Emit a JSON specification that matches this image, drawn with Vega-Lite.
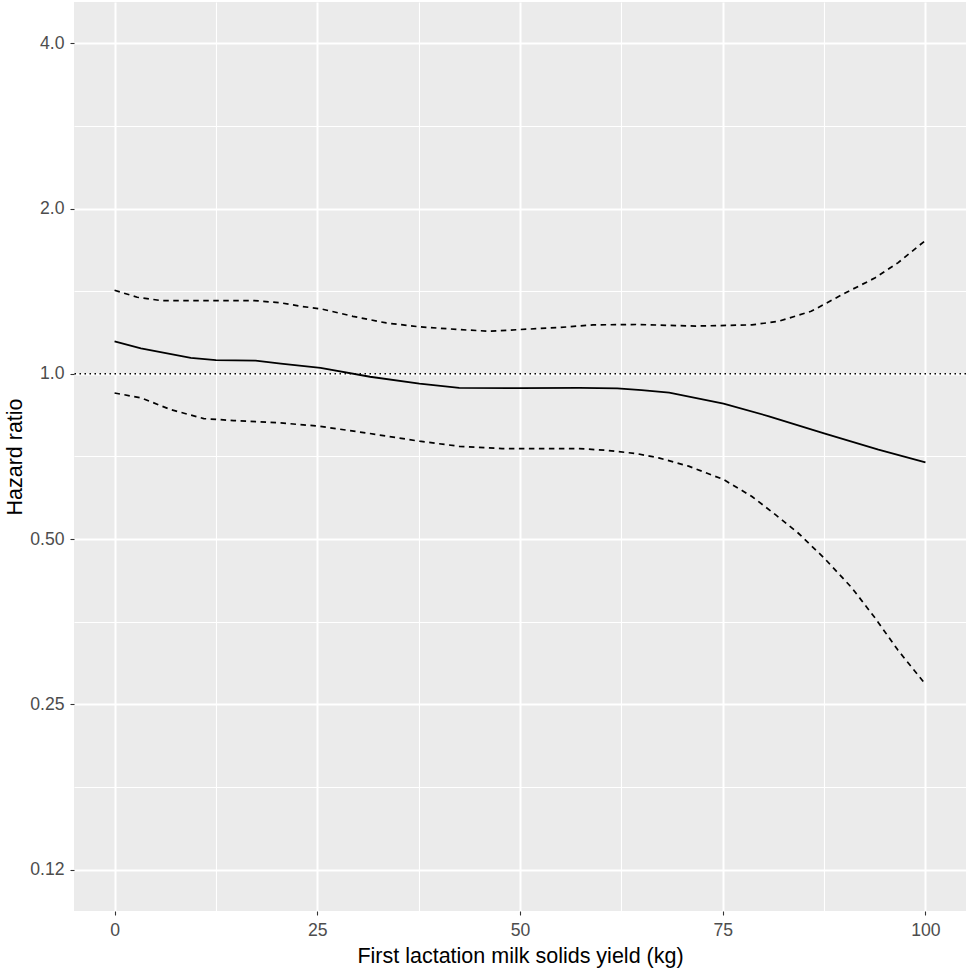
{
  "$schema": "https://vega.github.io/schema/vega-lite/v6.json",
  "width": 892,
  "height": 909,
  "autosize": {"type": "none"},
  "padding": {"left": 74, "top": 2, "right": 2, "bottom": 60},
  "background": "white",
  "datasets": {
    "curves": [
      {"yield": 0, "hr": 1.146, "series": "estimate"},
      {"yield": 3.25, "hr": 1.113, "series": "estimate"},
      {"yield": 9.4, "hr": 1.069, "series": "estimate"},
      {"yield": 12.5, "hr": 1.059, "series": "estimate"},
      {"yield": 17.4, "hr": 1.057, "series": "estimate"},
      {"yield": 20.5, "hr": 1.044, "series": "estimate"},
      {"yield": 25.4, "hr": 1.025, "series": "estimate"},
      {"yield": 31.5, "hr": 0.988, "series": "estimate"},
      {"yield": 37.6, "hr": 0.96, "series": "estimate"},
      {"yield": 42.5, "hr": 0.943, "series": "estimate"},
      {"yield": 50, "hr": 0.942, "series": "estimate"},
      {"yield": 57.3, "hr": 0.943, "series": "estimate"},
      {"yield": 62, "hr": 0.941, "series": "estimate"},
      {"yield": 65, "hr": 0.934, "series": "estimate"},
      {"yield": 68.4, "hr": 0.924, "series": "estimate"},
      {"yield": 75.1, "hr": 0.883, "series": "estimate"},
      {"yield": 80.7, "hr": 0.837, "series": "estimate"},
      {"yield": 87.5, "hr": 0.779, "series": "estimate"},
      {"yield": 94.2, "hr": 0.728, "series": "estimate"},
      {"yield": 100, "hr": 0.69, "series": "estimate"},
      {"yield": 0, "hr": 1.42, "series": "upper"},
      {"yield": 2.8, "hr": 1.379, "series": "upper"},
      {"yield": 5.7, "hr": 1.36, "series": "upper"},
      {"yield": 12.5, "hr": 1.36, "series": "upper"},
      {"yield": 17.2, "hr": 1.36, "series": "upper"},
      {"yield": 20.5, "hr": 1.347, "series": "upper"},
      {"yield": 22.9, "hr": 1.328, "series": "upper"},
      {"yield": 25.5, "hr": 1.313, "series": "upper"},
      {"yield": 29.4, "hr": 1.273, "series": "upper"},
      {"yield": 33.5, "hr": 1.238, "series": "upper"},
      {"yield": 37.6, "hr": 1.218, "series": "upper"},
      {"yield": 42.5, "hr": 1.204, "series": "upper"},
      {"yield": 46.2, "hr": 1.196, "series": "upper"},
      {"yield": 49.9, "hr": 1.204, "series": "upper"},
      {"yield": 55, "hr": 1.215, "series": "upper"},
      {"yield": 59, "hr": 1.228, "series": "upper"},
      {"yield": 64.3, "hr": 1.23, "series": "upper"},
      {"yield": 71.7, "hr": 1.222, "series": "upper"},
      {"yield": 78.6, "hr": 1.228, "series": "upper"},
      {"yield": 81.9, "hr": 1.247, "series": "upper"},
      {"yield": 85.9, "hr": 1.3, "series": "upper"},
      {"yield": 90.1, "hr": 1.404, "series": "upper"},
      {"yield": 93.8, "hr": 1.496, "series": "upper"},
      {"yield": 96.6, "hr": 1.593, "series": "upper"},
      {"yield": 100, "hr": 1.75, "series": "upper"},
      {"yield": 0, "hr": 0.923, "series": "lower"},
      {"yield": 3.3, "hr": 0.904, "series": "lower"},
      {"yield": 6.9, "hr": 0.861, "series": "lower"},
      {"yield": 11, "hr": 0.829, "series": "lower"},
      {"yield": 14.7, "hr": 0.822, "series": "lower"},
      {"yield": 20.5, "hr": 0.814, "series": "lower"},
      {"yield": 25.2, "hr": 0.803, "series": "lower"},
      {"yield": 31.4, "hr": 0.779, "series": "lower"},
      {"yield": 37.6, "hr": 0.754, "series": "lower"},
      {"yield": 42.5, "hr": 0.738, "series": "lower"},
      {"yield": 47.8, "hr": 0.731, "series": "lower"},
      {"yield": 57.3, "hr": 0.731, "series": "lower"},
      {"yield": 60.5, "hr": 0.726, "series": "lower"},
      {"yield": 64.3, "hr": 0.716, "series": "lower"},
      {"yield": 67.1, "hr": 0.703, "series": "lower"},
      {"yield": 70.8, "hr": 0.679, "series": "lower"},
      {"yield": 75.1, "hr": 0.642, "series": "lower"},
      {"yield": 78.6, "hr": 0.598, "series": "lower"},
      {"yield": 81.5, "hr": 0.554, "series": "lower"},
      {"yield": 84.3, "hr": 0.513, "series": "lower"},
      {"yield": 87.5, "hr": 0.462, "series": "lower"},
      {"yield": 90.9, "hr": 0.408, "series": "lower"},
      {"yield": 93.8, "hr": 0.359, "series": "lower"},
      {"yield": 96.6, "hr": 0.314, "series": "lower"},
      {"yield": 100, "hr": 0.272, "series": "lower"}
    ],
    "ref": [{"hr": 1}]
  },
  "layer": [
    {
      "data": {"name": "curves"},
      "transform": [{"filter": "datum.series === 'estimate'"}],
      "mark": {"type": "line", "color": "black", "strokeWidth": 1.8},
      "encoding": {
        "x": {
          "field": "yield", "type": "quantitative",
          "scale": {"domain": [-5, 105], "nice": false, "zero": false},
          "axis": {
            "orient": "bottom", "values": [12.5, 37.5, 62.5, 87.5],
            "grid": true, "labels": false, "ticks": false, "domain": false,
            "gridWidth": 1.1, "title": null
          }
        },
        "y": {
          "field": "hr", "type": "quantitative",
          "scale": {"type": "log", "base": 2, "domain": [0.10511, 4.7568], "nice": false, "zero": false},
          "axis": {
            "orient": "left", "values": [2.8284, 1.4142, 0.7071, 0.35355, 0.17678],
            "grid": true, "labels": false, "ticks": false, "domain": false,
            "gridWidth": 1.1, "title": null
          }
        }
      }
    },
    {
      "data": {"name": "curves"},
      "transform": [{"filter": "datum.series !== 'estimate'"}],
      "mark": {"type": "line", "color": "black", "strokeWidth": 1.7, "strokeDash": [5.5, 4.5]},
      "encoding": {
        "detail": {"field": "series"},
        "x": {
          "field": "yield", "type": "quantitative",
          "title": "First lactation milk solids yield (kg)",
          "axis": {
            "orient": "bottom", "values": [0, 25, 50, 75, 100],
            "grid": true, "gridWidth": 2, "titlePadding": 7
          }
        },
        "y": {
          "field": "hr", "type": "quantitative",
          "title": "Hazard ratio",
          "axis": {
            "orient": "left", "values": [0.125, 0.25, 0.5, 1, 2, 4],
            "labelExpr": "datum.value === 0.125 ? '0.12' : datum.value < 1 ? format(datum.value, '.2f') : format(datum.value, '.1f')",
            "grid": true, "gridWidth": 2, "titlePadding": 3
          }
        }
      }
    },
    {
      "data": {"name": "ref"},
      "mark": {"type": "rule", "color": "black", "strokeWidth": 1.5, "strokeDash": [1.5, 3.5]},
      "encoding": {
        "y": {"field": "hr", "type": "quantitative", "axis": null}
      }
    }
  ],
  "resolve": {"axis": {"x": "independent", "y": "independent"}},
  "config": {
    "font": "Liberation Sans",
    "view": {"fill": "#EBEBEB", "stroke": null},
    "axis": {
      "domain": false,
      "grid": true,
      "gridColor": "white",
      "tickColor": "#333333",
      "tickSize": 4,
      "tickWidth": 1.1,
      "labelColor": "#4D4D4D",
      "labelFont": "Liberation Sans",
      "labelFontSize": 17.6,
      "labelPadding": 6,
      "titleFont": "Liberation Sans",
      "titleFontSize": 21.5,
      "titleFontWeight": "normal",
      "titleColor": "black"
    }
  }
}
